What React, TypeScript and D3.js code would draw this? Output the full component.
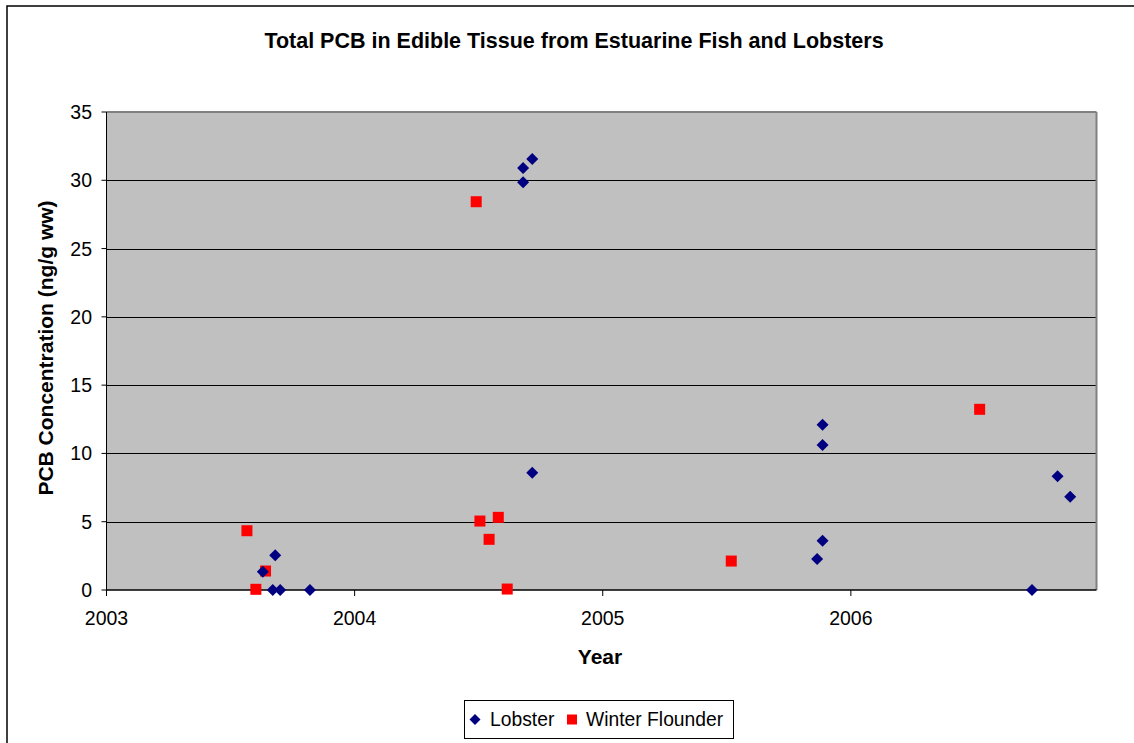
import React from "react";
import * as d3 from "d3";

const lobsterYear = [2003.68, 2003.63, 2003.67, 2003.70, 2003.82, 2004.716, 2004.679, 2004.679, 2004.716, 2005.886, 2005.886, 2005.886, 2005.864, 2006.73, 2006.833, 2006.884];
const lobsterPCB = [2.54, 1.34, 0, 0, 0, 31.56, 30.9, 29.85, 8.59, 12.1, 10.62, 3.61, 2.27, 0, 8.32, 6.83];
const flounderYear = [2003.566, 2003.641, 2003.602, 2004.49, 2004.505, 2004.579, 2004.542, 2004.615, 2005.518, 2006.519];
const flounderPCB = [4.34, 1.39, 0.05, 28.43, 5.05, 5.32, 3.71, 0.07, 2.12, 13.23];
const xTicks = [2003, 2004, 2005, 2006];
const yTicks = [0, 5, 10, 15, 20, 25, 30, 35];

const W = 1134, H = 743;
const L = 106.5, R = 1096.5, T = 112, B = 590;
const FONT = "Arial, 'Liberation Sans', sans-serif";

export default function App() {
  const x = d3.scaleLinear().domain([2003, 2006.99]).range([L, R]);
  const y = d3.scaleLinear().domain([0, 35]).range([B, T]);
  const diamond = (cx: number, cy: number, r: number) =>
    `M${cx},${cy - r}L${cx + r},${cy}L${cx},${cy + r}L${cx - r},${cy}Z`;
  return (
    <svg width={W} height={H} style={{ position: "absolute", left: 0, top: 0, background: "#fff" }} fontFamily={FONT}>
      <rect x={7} y={6} width={W + 10} height={H + 10} fill="#fff" stroke="#000" strokeWidth={1.5} />
      <text x={574} y={48} textAnchor="middle" fontSize={21.5} fontWeight="bold">
        Total PCB in Edible Tissue from Estuarine Fish and Lobsters
      </text>
      <rect x={L} y={T} width={R - L} height={B - T} fill="#C0C0C0" />
      {yTicks.filter((v) => v > 0 && v < 35).map((v) => (
        <line key={v} x1={L} x2={R} y1={Math.round(y(v)) + 0.5} y2={Math.round(y(v)) + 0.5} stroke="#000" strokeWidth={1} />
      ))}
      <line x1={L} x2={R} y1={T} y2={T} stroke="#808080" strokeWidth={2} />
      <line x1={R} x2={R} y1={T} y2={B} stroke="#808080" strokeWidth={2} />
      <line x1={L} x2={L} y1={T} y2={B} stroke="#000" strokeWidth={1} />
      <line x1={L} x2={R} y1={B} y2={B} stroke="#000" strokeWidth={1.5} />
      {yTicks.map((v) => (
        <g key={v}>
          <line x1={L - 5} x2={L} y1={y(v)} y2={y(v)} stroke="#000" />
          <text x={92} y={y(v) + 7} textAnchor="end" fontSize={19.5}>{v}</text>
        </g>
      ))}
      {xTicks.map((v) => (
        <g key={v}>
          <line x1={x(v)} x2={x(v)} y1={B} y2={B + 6} stroke="#000" />
          <text x={x(v)} y={625} textAnchor="middle" fontSize={19.5}>{v}</text>
        </g>
      ))}
      <text x={600} y={664} textAnchor="middle" fontSize={21} fontWeight="bold">Year</text>
      <text transform={`translate(53,348) rotate(-90)`} textAnchor="middle" fontSize={21} fontWeight="bold">
        PCB Concentration (ng/g ww)
      </text>
      {flounderYear.map((v, i) => (
        <rect key={"f" + i} x={x(v) - 5.5} y={y(flounderPCB[i]) - 5.5} width={11} height={11} fill="#FF0000" />
      ))}
      {lobsterYear.map((v, i) => (
        <path key={"l" + i} d={diamond(x(v), y(lobsterPCB[i]), 6)} fill="#000080" />
      ))}
      <rect x={464.5} y={700.5} width={269} height={38} fill="#fff" stroke="#000" strokeWidth={1} />
      <path d={diamond(475, 719.5, 5.5)} fill="#000080" />
      <text x={490} y={726} fontSize={19.3}>Lobster</text>
      <rect x={567} y={714.5} width={10} height={10} fill="#FF0000" />
      <text x={586} y={726} fontSize={19.3}>Winter Flounder</text>
    </svg>
  );
}
